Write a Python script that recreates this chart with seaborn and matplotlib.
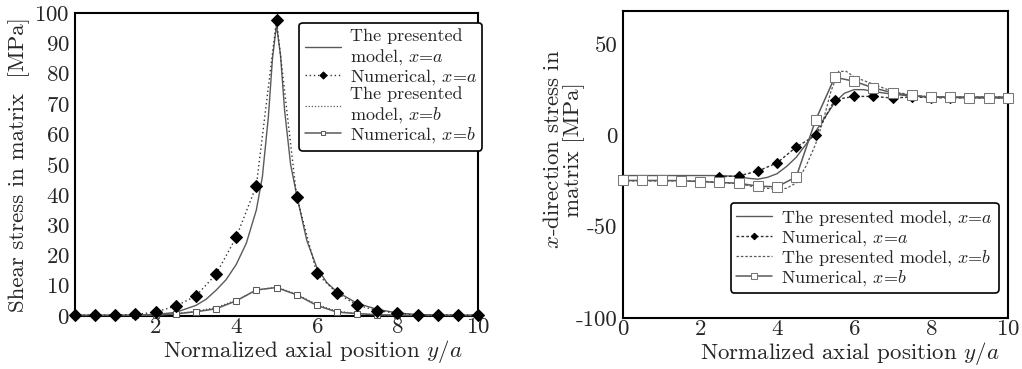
import numpy as np
import pandas as pd
import seaborn as sns
import matplotlib
matplotlib.use('Agg')
import matplotlib.pyplot as plt

# ---- left panel: shear stress ----
pos_num = [0, 0.5, 1, 1.5, 2, 2.5, 3, 3.5, 4, 4.5, 5, 5.5, 6, 6.5, 7, 7.5, 8, 8.5, 9, 9.5, 10]
shear_num_a = [0.3, 0.3, 0.3, 0.5, 1.3, 3.3, 6.6, 13.8, 26, 43, 97.6, 39.4, 14.1, 7.5, 3.6, 1.8, 0.9, 0.3, 0.3, 0.3, 0.3]
shear_num_b = [0.2, 0.2, 0.2, 0.2, 0.3, 0.7, 1.4, 2.4, 5.0, 8.6, 9.4, 7.0, 3.5, 1.3, 0.8, 0.4, 0.3, 0.2, 0.2, 0.2, 0.2]

pos_model_a = [0, 1, 1.5, 2, 2.5, 3, 3.25, 3.5, 3.75, 4, 4.25, 4.5, 4.65, 4.8, 4.9, 5,
               5.1, 5.2, 5.35, 5.5, 5.75, 6, 6.25, 6.5, 7, 7.5, 8, 8.5, 9, 10]
shear_model_a = [0.2, 0.2, 0.3, 0.5, 1.2, 3.5, 5.5, 8.5, 12, 17, 24, 35, 46, 66, 85, 96,
                 86, 68, 50, 40, 25, 16, 11, 8, 4.2, 2.2, 1.0, 0.5, 0.3, 0.2]
pos_model_b = [0, 2, 2.5, 3, 3.5, 4, 4.5, 5, 5.5, 6, 6.5, 7, 7.5, 8, 10]
shear_model_b = [0.2, 0.3, 0.8, 1.6, 2.8, 5.2, 8.5, 9.6, 7.2, 3.8, 1.6, 0.8, 0.4, 0.2, 0.2]

# ---- right panel: x-direction stress ----
pos_num_xa = [2.5, 3, 3.5, 4, 4.5, 5, 5.5, 6, 6.5, 7, 7.5, 8, 8.5, 9, 9.5, 10]
xs_num_a = [-22.7, -22.2, -19.6, -15.1, -6.4, 0, 19.5, 21.3, 21.3, 20.4, 21, 20.6, 20.5, 20.5, 20.5, 20.5]
xs_num_b = [-24.7, -24.7, -24.7, -24.8, -25.3, -25.8, -26.2, -27.8, -28.2, -22.7, 8.2,
            31.8, 29.6, 26, 23.3, 21.8, 20.9, 20.8, 20.5, 20.5, 20.4]
pos_xmodel_a = [0, 1, 2, 2.5, 3, 3.25, 3.5, 3.75, 4, 4.25, 4.5, 4.75, 5, 5.25, 5.5, 5.75,
                6, 6.25, 6.5, 7, 7.5, 8, 9, 10]
xs_model_a = [-22, -22, -22, -22, -22.5, -23.5, -24, -23, -21, -17, -12, -5, 2, 10, 18, 23,
              25, 25, 24, 22.5, 21.5, 21, 21, 21]
pos_xmodel_b = [0, 1, 2, 3, 3.5, 4, 4.25, 4.5, 4.75, 5, 5.2, 5.4, 5.6, 5.8, 6, 6.5, 7, 7.5, 8, 9, 10]
xs_model_b = [-25, -25, -25, -26.5, -28.5, -29.5, -29, -26, -17, -5, 8, 24, 35, 35, 32, 28,
              24, 22, 21, 21, 21]

labels_left = ['The presented\nmodel, $x$=$a$', 'Numerical, $x$=$a$',
               'The presented\nmodel, $x$=$b$', 'Numerical, $x$=$b$']
labels_right = ['The presented model, $x$=$a$', 'Numerical, $x$=$a$',
                'The presented model, $x$=$b$', 'Numerical, $x$=$b$']

sns.set_style('white')
plt.rcParams['font.family'] = ['cmr10', 'DejaVu Serif']
plt.rcParams['mathtext.fontset'] = 'cm'
plt.rcParams['axes.formatter.use_mathtext'] = True
plt.rcParams['axes.unicode_minus'] = False

fig = plt.figure(figsize=(10.22, 3.69), dpi=100)
ax1 = fig.add_axes([0.0734, 0.1436, 0.3943, 0.8212])
ax2 = fig.add_axes([0.6096, 0.138, 0.3767, 0.832])

line_c = '#5a5a5a'

# left
sns.lineplot(x=pos_model_a, y=shear_model_a, ax=ax1, color=line_c, lw=1.0, label=labels_left[0], zorder=3)
sns.lineplot(x=pos_num, y=shear_num_a, ax=ax1, color='#333333', lw=1.0, linestyle=(0, (1, 2)),
             marker='D', markersize=6, markerfacecolor='black', markeredgecolor='black',
             label=labels_left[1], clip_on=False, zorder=5)
sns.lineplot(x=pos_model_b, y=shear_model_b, ax=ax1, color=line_c, lw=0.9, linestyle=(0, (1, 1.5)),
             label=labels_left[2], zorder=3)
sns.lineplot(x=pos_num, y=shear_num_b, ax=ax1, color=line_c, lw=1.1,
             marker='s', markersize=4.5, markerfacecolor='white', markeredgecolor=line_c,
             label=labels_left[3], clip_on=False, zorder=4)

# right
sns.lineplot(x=pos_xmodel_a, y=xs_model_a, ax=ax2, color=line_c, lw=1.0, label=labels_right[0], zorder=3)
sns.lineplot(x=pos_num_xa, y=xs_num_a, ax=ax2, color='#333333', lw=1.0, linestyle=(0, (2, 1.5)),
             marker='D', markersize=5.5, markerfacecolor='black', markeredgecolor='black',
             label=labels_right[1], clip_on=False, zorder=4)
sns.lineplot(x=pos_xmodel_b, y=xs_model_b, ax=ax2, color=line_c, lw=0.9, linestyle=(0, (2, 1.5)),
             label=labels_right[2], zorder=3)
sns.lineplot(x=pos_num, y=xs_num_b, ax=ax2, color=line_c, lw=1.1,
             marker='s', markersize=7, markerfacecolor='white', markeredgecolor='#777777',
             label=labels_right[3], clip_on=False, zorder=5)

fs = 16.5
for ax in (ax1, ax2):
    ax.set_xlim(0, 10)
    for s in ax.spines.values():
        s.set_linewidth(1.5)
        s.set_color('black')
    ax.tick_params(axis='x', direction='in', length=4, width=1, labelsize=fs, pad=1)
    ax.tick_params(axis='y', direction='out', length=3, width=1, labelsize=fs, pad=1)
    ax.set_xlabel('Normalized axial position $y/a$', fontsize=fs)
    ax.xaxis.set_label_coords(0.59, -0.072)

ax1.set_ylim(0, 100)
ax1.set_xticks([2, 4, 6, 8, 10])
ax1.set_yticks(range(0, 101, 10))
ax1.set_ylabel('Shear stress in matrix  [MPa]', fontsize=fs)
ax1.yaxis.set_label_coords(-0.112, 0.5)

ax2.set_ylim(-100, 68)
ax2.set_xticks([0, 2, 4, 6, 8, 10])
ax2.set_yticks([-100, -50, 0, 50])
ax2.set_yticklabels(['-100', '-50', '0', '50'])
ax2.set_ylabel('$x$-direction stress in\nmatrix [MPa]', fontsize=fs, linespacing=1.0)
ax2.yaxis.set_label_coords(-0.1, 0.55)

leg_kw = dict(fontsize=13, frameon=True, fancybox=True, edgecolor='black', framealpha=1,
              labelspacing=0.0, handlelength=2.0, handletextpad=0.5, borderpad=0.3,
              borderaxespad=0.2, markerscale=0.6)
l1 = ax1.legend(loc='upper right', bbox_to_anchor=(1.02, 0.98), **leg_kw)
l2 = ax2.legend(loc='lower right', bbox_to_anchor=(0.985, 0.07), **leg_kw)
for l in (l1, l2):
    l.get_frame().set_linewidth(1.2)

fig.savefig('out.png', dpi=100)
